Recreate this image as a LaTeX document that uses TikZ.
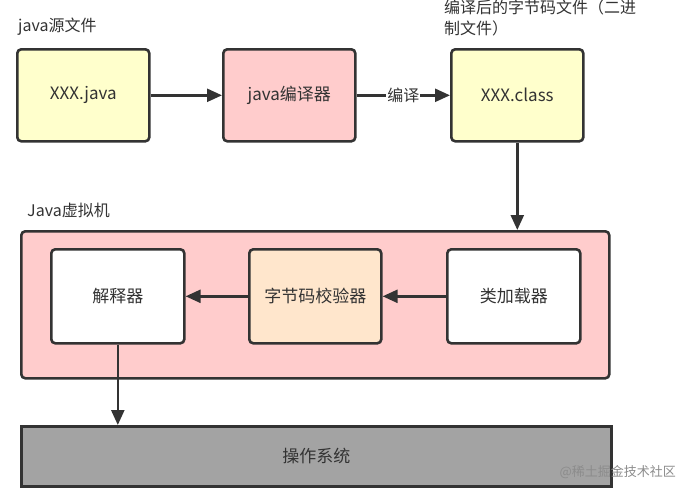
\documentclass[tikz,border=0pt]{standalone}
\usepackage{fontspec}
\setmainfont{Noto Sans CJK SC}
\usetikzlibrary{arrows.meta}
\definecolor{yel}{HTML}{FFFFCC}
\definecolor{pnk}{HTML}{FFCCCC}
\definecolor{org}{HTML}{FFE6CC}
\definecolor{osg}{HTML}{A3A3A3}
\definecolor{txt}{HTML}{333333}
\begin{document}
\begin{tikzpicture}[x=1pt,y=-1pt,
  box/.style={draw=txt,line width=2.6pt,rounded corners=4pt,inner sep=0pt,text=txt,font=\fontsize{17}{20}\selectfont},
  lbl/.style={anchor=north west,inner sep=0pt,text=txt,font=\fontsize{16}{21}\selectfont,align=left},
  arr/.style={draw=txt,line width=2.4pt,-{Triangle[length=15pt,width=13pt]}}]
\useasboundingbox (0,0) rectangle (679,493);
% JVM container
\node[box,fill=pnk,minimum width=588pt,minimum height=147pt,anchor=north west] (jvm) at (20,230) {};
\node[lbl] (jvml) at (27,203) {Java虚拟机};
% top row
\node[box,fill=yel,minimum width=132pt,minimum height=92pt,anchor=north west] (src) at (16,48) {XXX.java};
\node[box,fill=pnk,minimum width=132pt,minimum height=92pt,anchor=north west] (comp) at (222,48) {java编译器};
\node[box,fill=yel,minimum width=132pt,minimum height=92pt,anchor=north west] (cls) at (450,48) {XXX.class};
\node[lbl] (srcl) at (18,18) {java源文件};
\node[lbl] (clsl) at (444,0) {编译后的字节码文件（二进\\制文件）};
% inner boxes
\node[box,fill=white,minimum width=133pt,minimum height=94pt,anchor=north west] (interp) at (50,248) {解释器};
\node[box,fill=org,minimum width=132pt,minimum height=94pt,anchor=north west] (verif) at (248,248) {字节码校验器};
\node[box,fill=white,minimum width=133pt,minimum height=94pt,anchor=north west] (loader) at (446,248) {类加载器};
% OS
\node[box,rounded corners=0pt,fill=osg,minimum width=590pt,minimum height=60pt,anchor=north west] (os) at (20,425) {操作系统};
% connectors
\draw[arr] (src) -- (comp);
\draw[arr] (comp) -- node[fill=white,inner sep=1pt,text=txt,font=\fontsize{16}{18}\selectfont]{编译} (cls);
\draw[arr] (cls.south) -- (cls.south |- jvm.north);
\draw[arr] (loader) -- (verif);
\draw[arr] (verif) -- (interp);
\draw[arr] (interp.south) -- (interp.south |- os.north);
% watermark
\node[anchor=east,inner sep=0pt,text=black!45,font=\fontsize{13}{15}\selectfont] (wm) at (676,472) {@稀土掘金技术社区};
\end{tikzpicture}
\end{document}
